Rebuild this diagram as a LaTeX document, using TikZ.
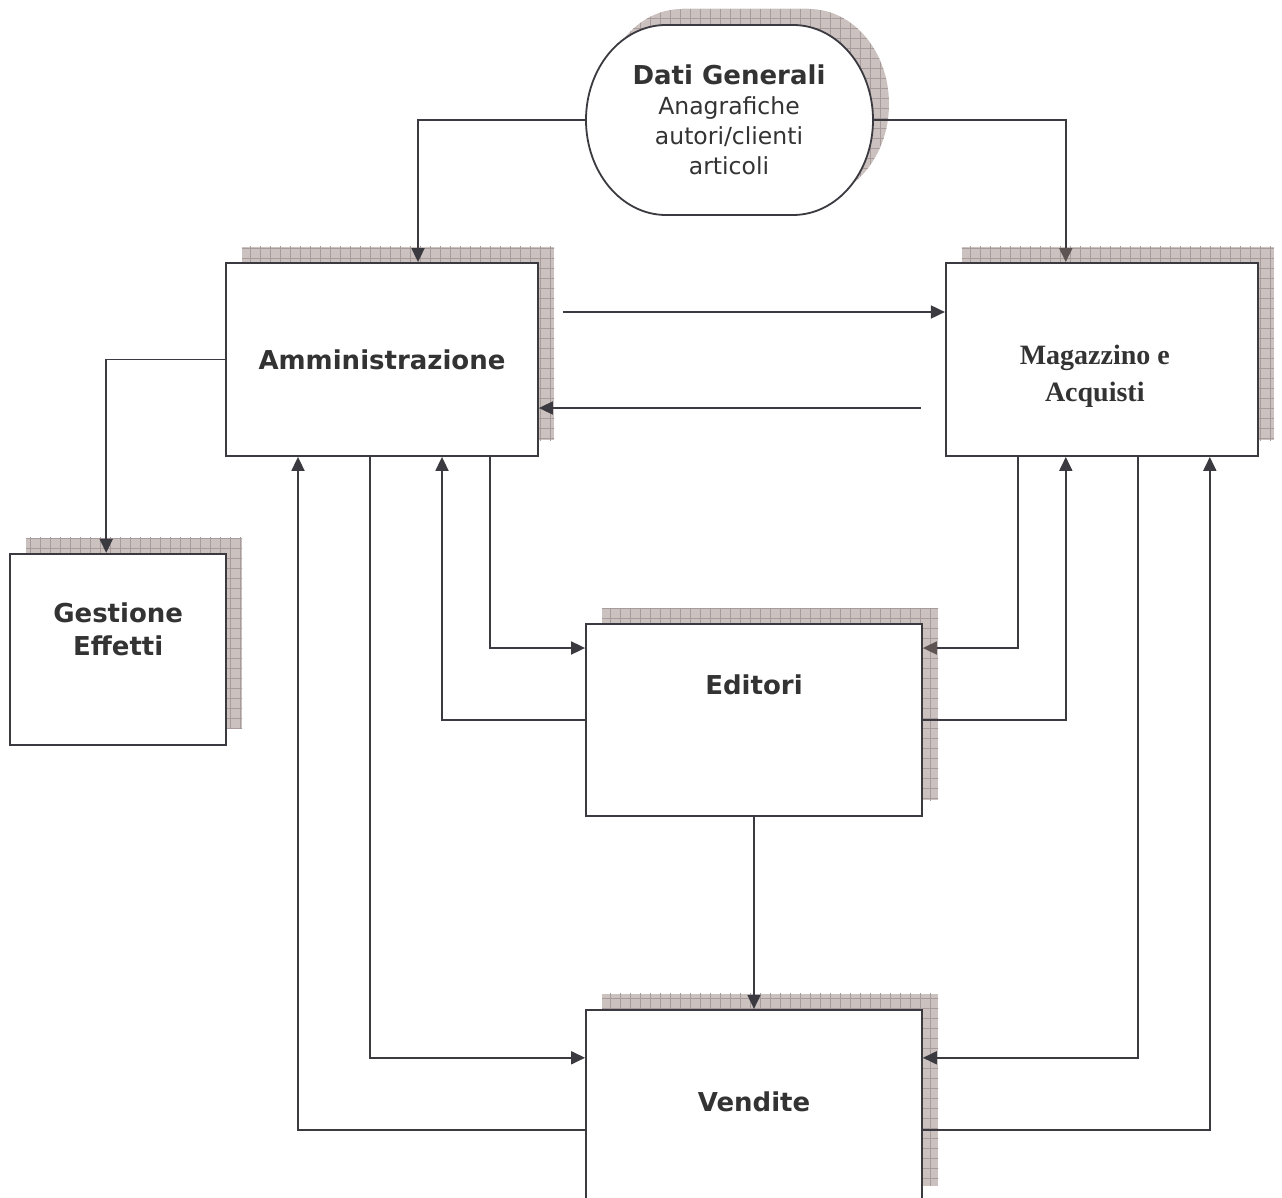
\documentclass[tikz,border=0pt]{standalone}
\usepackage{fontspec}
\newfontfamily\verd{DejaVu Sans}
\newfontfamily\timesbold{Liberation Serif}
\usetikzlibrary{positioning,arrows.meta,shadows,patterns.meta}
\definecolor{linec}{HTML}{3A3A40}
\definecolor{textc}{HTML}{333333}
\definecolor{shadowbg}{HTML}{CBC1BF}
\definecolor{shadowgrid}{HTML}{A89B9B}
\definecolor{tipgrey}{HTML}{5E5454}
\tikzset{every node/.style={align=center, text=textc}, >={Triangle[length=14pt,width=13pt]},
  hatchshadow/.style={general shadow={fill=shadowbg, shadow xshift=16pt, shadow yshift=16pt},
    general shadow={pattern={Hatch[angle=0,distance=10pt,line width=.6pt]}, pattern color=shadowgrid, shadow xshift=16pt, shadow yshift=16pt}},
  box/.style={hatchshadow, draw=linec, line width=1.8pt, fill=white, inner sep=0pt},
  bigbox/.style={box, minimum width=312pt, minimum height=193pt},
  midbox/.style={box, minimum width=336pt, minimum height=192pt},
  smallbox/.style={box, minimum width=216pt, minimum height=191pt},
  ovalbox/.style={hatchshadow, draw=linec, line width=1.8pt, fill=white},
  lbl/.style={font=\verd\bfseries\fontsize{26}{33}\selectfont},
  maglbl/.style={font=\timesbold\bfseries\fontsize{28}{37}\selectfont},
  datilbl/.style={font=\verd\fontsize{23.5}{30}\selectfont, minimum width=288pt, inner sep=0pt},
  flow/.style={draw=linec, line width=1.8pt, ->},
  greytip/.style={-{Triangle[length=14pt,width=13pt,color=tipgrey]}}}
\begin{document}
\begin{tikzpicture}[x=1pt, y=-1pt]
            \useasboundingbox (0,0) rectangle (1282,1198);
            \clip (0,0) rectangle (1282,1198);
            \draw[ovalbox] (666,25) -- (793,25) arc[start angle=-90, end angle=90, x radius=80, y radius=95]
                -- (666,215) arc[start angle=90, end angle=270, x radius=80, y radius=95] -- cycle;
            \node[datilbl] (dati) at (729,120) {{\bfseries\fontsize{26}{30}\selectfont Dati Generali}\\Anagrafiche\\autori/clienti\\articoli};

            \node[bigbox] (adm) at (382,359.5) {};
            \node[bigbox, right=406pt of adm] (mag) {};
            \node[smallbox, below left=96pt and -2pt of adm.south west] (ges) {};
            \node[midbox] (edi) at (754,720) {};
            \node[midbox, below=192pt of edi] (ven) {};

            \node[lbl] (admtxt) at (adm) {Amministrazione};
            \node[maglbl] (magtxt) at ([xshift=-7pt,yshift=-16.5pt]mag.center) {Magazzino e\\Acquisti};
            \node[lbl] (gestxt) at ([yshift=19.5pt]ges.center) {Gestione\\Effetti};
            \node[lbl] (editxt) at ([yshift=35pt]edi.center) {Editori};
            \node[lbl] (ventxt) at ([yshift=4pt]ven.center) {Vendite};

            \draw[flow] (dati.west) -| ([xshift=36pt]adm.north);
            \draw[flow, greytip] (dati.east) -| ([xshift=-36pt]mag.north);
            \draw[flow] ([xshift=24pt,yshift=47.5pt]adm.east) -- ([yshift=47.5pt]mag.west);
            \draw[flow] ([xshift=-24pt,yshift=-48.5pt]mag.west) -- ([yshift=-48.5pt]adm.east);
            \draw[flow] (adm.west) -| ([xshift=-12pt]ges.north);
            \draw[flow] ([yshift=-24pt]ven.west) -| ([xshift=-84pt]adm.south);
            \draw[flow] ([xshift=-12pt]adm.south) |- ([yshift=48pt]ven.west);
            \draw[flow] (edi.west) -| ([xshift=60pt]adm.south);
            \draw[flow] ([xshift=108pt]adm.south) |- ([yshift=72pt]edi.west);
            \draw[flow, greytip] ([xshift=-84pt]mag.south) |- ([yshift=72pt]edi.east);
            \draw[flow] (edi.east) -| ([xshift=-36pt]mag.south);
            \draw[flow] ([xshift=36pt]mag.south) |- ([yshift=48pt]ven.east);
            \draw[flow] ([yshift=-24pt]ven.east) -| ([xshift=108pt]mag.south);
            \draw[flow] (edi) -- (ven);
        \end{tikzpicture}
\end{document}
